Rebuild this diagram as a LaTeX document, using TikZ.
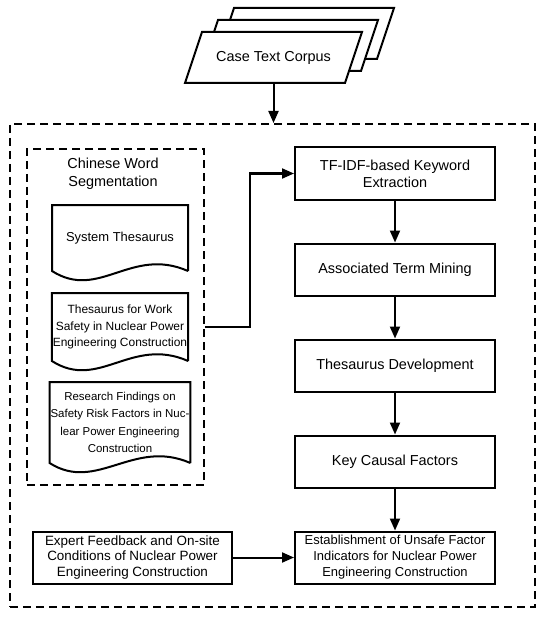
\documentclass[tikz,border=0pt]{standalone}
\usepackage{fontspec}
\setmainfont{Liberation Sans}
\usetikzlibrary{positioning,arrows.meta,calc}
\tikzset{
  >={Triangle[length=12bp,width=10bp]},
  stepbox/.style={draw, rectangle, minimum width=200bp, minimum height=52bp,
    align=center, inner sep=2bp, font=\fontsize{14.5}{17}\selectfont},
  groupbox/.style={draw, dash pattern=on 8bp off 5bp},
  sheet/.style={draw, fill=white},
  doctext/.style={minimum width=134bp, align=center, inner sep=0pt},
}

\begin{document}
\begin{tikzpicture}[
  x=1bp, y=-1bp,
  line width=2bp,
  node distance=42bp
]
\useasboundingbox (0,0) rectangle (550,618);

% Groups
\node[groupbox, minimum width=525bp, minimum height=483bp] (outer) at (272.5,365.5) {};
\node[groupbox, minimum width=177bp, minimum height=336bp] (segment) at (115.5,317) {};

% Corpus
\foreach \dx/\dy in {32/-24,16/-12,0/0}
  \draw[sheet, shift={(\dx,\dy)}] (185,83) -- (202,32) -- (362,32) -- (345,83) -- cycle;
\node[minimum width=160bp, minimum height=51bp, inner sep=0pt, font=\fontsize{14.5}{17}\selectfont]
  (corpus) at (273.5,57.5) {Case Text Corpus};

% Segmentation
\node[align=center, font=\fontsize{14.5}{18}\selectfont] (segtitle) at (113,174) {Chinese Word\\Segmentation};
\node[doctext, minimum height=64bp, font=\fontsize{13}{16}\selectfont] (sysdoc) at (120,238) {System Thesaurus};
\node[doctext, minimum height=66bp, font=\fontsize{12}{16.5}\selectfont] (workdoc) at (120,327)
  {Thesaurus for Work\\Safety in Nuclear Power\\Engineering Construction};
\node[doctext, minimum height=79bp, font=\fontsize{11.5}{17.5}\selectfont] (riskdoc) at (120,422.5)
  {Research Findings on\\Safety Risk Factors in Nuc-\\lear Power Engineering\\Construction};
\foreach \d in {sysdoc,workdoc,riskdoc}
  \draw (\d.south east) -- (\d.north east) -- (\d.north west) -- (\d.south west)
    .. controls +(47,30) and +(-57,-25) .. (\d.south east);

% Steps
\node[stepbox] (tfidf) at (395,173.5) {TF-IDF-based Keyword\\Extraction};
\node[stepbox, below=of tfidf] (assoc) {Associated Term Mining};
\node[stepbox, below=of assoc] (thesdev) {Thesaurus Development};
\node[stepbox, below=of thesdev] (causal) {Key Causal Factors};
\node[stepbox, below=of causal, font=\fontsize{13}{16}\selectfont] (indicator)
  {Establishment of Unsafe Factor\\Indicators for Nuclear Power\\Engineering Construction};
\node[stepbox, left=61bp of indicator, minimum width=199bp, font=\fontsize{13.5}{16}\selectfont] (expert)
  {Expert Feedback and On-site\\Conditions of Nuclear Power\\Engineering Construction};

% Arrows
\coordinate (bend) at ($(segment.east)!0.5!(tfidf.west)$);
\draw[->] (corpus.south) -- (corpus.south |- outer.north);
\draw[->] (segment.east |- workdoc) -- (bend |- workdoc) -- (bend |- tfidf) -- (tfidf);
\draw[->] (tfidf) -- (assoc);
\draw[->] (assoc) -- (thesdev);
\draw[->] (thesdev) -- (causal);
\draw[->] (causal) -- (indicator);
\draw[->] (expert) -- (indicator);

\end{tikzpicture}
\end{document}
